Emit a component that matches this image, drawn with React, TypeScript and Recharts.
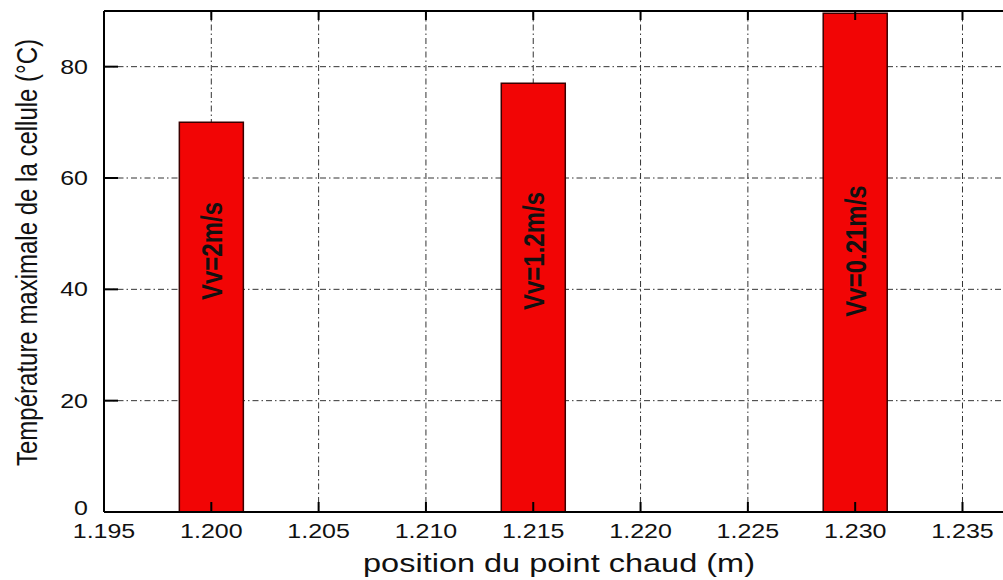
import { Bar, BarChart, CartesianGrid, LabelList, XAxis, YAxis } from "recharts";

// hot-spot position (m) and max cell temperature (°C) per air speed
const positions = [1.2, 1.215, 1.23];
const tempMax = [70, 77, 89.6];
const vitesses = ["Vv=2m/s", "Vv=1.2m/s", "Vv=0.21m/s"];

const xTicks = [1.195, 1.2, 1.205, 1.21, 1.215, 1.22, 1.225, 1.23, 1.235];
const yTicks = [0, 20, 40, 60, 80];

const data = positions.map((x, i) => ({ x, t: tempMax[i], vv: vitesses[i] }));

const FONT = "Arial, 'Liberation Sans', sans-serif";
// text in this figure is drawn a bit wider than normal
const SX = 1.25;

function BottomTick({ x, y, payload }: any) {
  return (
    <g>
      <line x1={x} x2={x} y1={y} y2={y - 10} stroke="#000" strokeWidth={2} />
      <text
        transform={`translate(${x},${y + 26}) scale(${SX},1)`}
        textAnchor="middle"
        fontSize={20}
        fontFamily={FONT}
        fill="#111"
      >
        {Number(payload.value).toFixed(3)}
      </text>
    </g>
  );
}

function TopTick({ x, y }: any) {
  return <line x1={x} x2={x} y1={y} y2={y + 9} stroke="#000" strokeWidth={2} />;
}

function LeftTick({ x, y, payload }: any) {
  // the 0 label sits a little higher so it clears the 1.195 label
  const dy = payload.value === 0 ? 3 : 7;
  return (
    <g>
      <line x1={x} x2={x + 14} y1={y} y2={y} stroke="#000" strokeWidth={2} />
      <text
        transform={`translate(${x - 16},${y + dy}) scale(${SX},1)`}
        textAnchor="end"
        fontSize={20}
        fontFamily={FONT}
        fill="#111"
      >
        {payload.value}
      </text>
    </g>
  );
}

function VvLabel({ x, y, width, height, value }: any) {
  const cx = x + width / 2;
  const cy = y + height - 261;
  return (
    <text
      transform={`translate(${cx},${cy}) scale(${SX},1) rotate(-90)`}
      textAnchor="middle"
      dy={8.6}
      fontSize={24}
      fontWeight="bold"
      fontFamily={FONT}
      fill="#111"
    >
      {value}
    </text>
  );
}

function XTitle({ viewBox }: any) {
  const cx = viewBox.x + viewBox.width / 2;
  return (
    <text
      transform={`translate(${cx},572) scale(${SX},1)`}
      textAnchor="middle"
      fontSize={26}
      fontFamily={FONT}
      fill="#111"
    >
      position du point chaud (m)
    </text>
  );
}

function YTitle({ viewBox }: any) {
  const cy = viewBox.y + viewBox.height / 2 - 9;
  return (
    <text
      transform={`translate(37,${cy}) scale(${SX},1) rotate(-90)`}
      textAnchor="middle"
      fontSize={24}
      fontFamily={FONT}
      fill="#111"
    >
      Température maximale de la cellule (°C)
    </text>
  );
}

export default function App() {
  return (
    <div
      style={{
        position: "fixed",
        left: 0,
        top: 0,
        width: 1003,
        height: 580,
        overflow: "hidden",
        background: "#fff",
      }}
    >
      <BarChart width={1040} height={580} data={data} margin={{ top: 1, right: 26, bottom: 38, left: 44 }}>
        <CartesianGrid stroke="#333" strokeDasharray="6 3 1.5 3" />
        <XAxis
          dataKey="x"
          type="number"
          domain={[1.195, 1.2374]}
          ticks={xTicks}
          allowDataOverflow
          height={30}
          tickSize={0}
          tickMargin={0}
          tickLine={false}
          axisLine={{ stroke: "#000", strokeWidth: 2 }}
          tick={<BottomTick />}
          interval={0}
          label={{ content: <XTitle /> }}
        />
        <XAxis
          xAxisId="top"
          orientation="top"
          dataKey="x"
          type="number"
          domain={[1.195, 1.2374]}
          ticks={xTicks}
          allowDataOverflow
          height={10}
          tickSize={0}
          tickMargin={0}
          tickLine={false}
          axisLine={{ stroke: "#000", strokeWidth: 2 }}
          tick={<TopTick />}
          interval={0}
        />
        <YAxis
          type="number"
          domain={[0, 90]}
          ticks={yTicks}
          allowDataOverflow
          width={60}
          tickSize={0}
          tickMargin={0}
          tickLine={false}
          axisLine={{ stroke: "#000", strokeWidth: 2 }}
          tick={<LeftTick />}
          interval={0}
          label={{ content: <YTitle /> }}
        />
        <Bar dataKey="t" barSize={64} fill="#f20505" stroke="#3a0000" strokeWidth={1.5} isAnimationActive={false}>
          <LabelList dataKey="vv" content={<VvLabel />} />
        </Bar>
      </BarChart>
    </div>
  );
}
